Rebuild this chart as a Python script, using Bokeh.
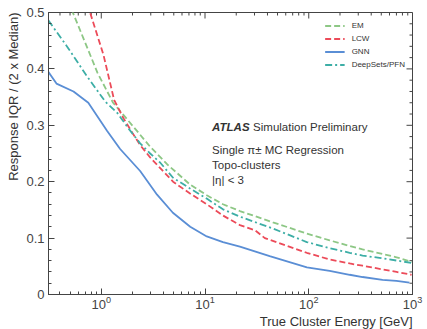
import math
from bokeh.plotting import figure
from bokeh.models import (Range1d, Label, Title, SingleIntervalTicker, LogTicker,
                          Legend, LegendItem)
from bokeh.embed import file_html
from bokeh.resources import INLINE

# ---- data ----
em_e = [0.48, 0.67, 0.92, 1.30, 2.03, 2.96, 4.31, 7.17, 10.4, 14.9, 21.7, 45.1, 95.7, 159, 248, 330, 702, 980]
em_v = [0.520, 0.455, 0.393, 0.340, 0.298, 0.262, 0.231, 0.195, 0.176, 0.160, 0.148, 0.128, 0.108, 0.096, 0.086, 0.080, 0.066, 0.058]

lcw_e = [0.72, 0.78, 1.05, 1.33, 1.63, 1.99, 2.37, 2.96, 4.92, 7.17, 10.4, 14.9, 21.7, 30.3, 37.7, 95.7, 159, 248, 330, 702, 980]
lcw_v = [0.530, 0.500, 0.425, 0.345, 0.313, 0.287, 0.265, 0.243, 0.200, 0.179, 0.160, 0.140, 0.123, 0.114, 0.100, 0.074, 0.062, 0.055, 0.051, 0.040, 0.035]

gnn_e = [0.30, 0.37, 0.54, 0.75, 1.14, 1.52, 2.37, 3.45, 4.9, 7.2, 10.4, 14.9, 21.7, 42, 96, 159, 248, 330, 515, 700, 935]
gnn_v = [0.398, 0.374, 0.360, 0.340, 0.290, 0.258, 0.219, 0.177, 0.145, 0.120, 0.103, 0.093, 0.085, 0.068, 0.048, 0.042, 0.035, 0.031, 0.026, 0.024, 0.021]

pfn_e = [0.309, 0.471, 0.734, 1.093, 1.426, 1.82, 2.37, 2.96, 3.69, 4.92, 7.17, 10.4, 14.9, 21.7, 45.1, 95.7, 159, 248, 330, 481, 980]
pfn_v = [0.486, 0.439, 0.386, 0.342, 0.322, 0.295, 0.268, 0.250, 0.234, 0.207, 0.188, 0.170, 0.151, 0.138, 0.117, 0.093, 0.082, 0.074, 0.069, 0.065, 0.056]

x_major = [1, 10, 100, 1000]
x_minor = [m * 10.0 ** d for d in range(-1, 3) for m in range(2, 10)]
y_major = [0.0, 0.1, 0.2, 0.3, 0.4, 0.5]
y_minor = [round(i * 0.02, 2) for i in range(26) if i % 5]

X0, X1, Y0, Y1 = 0.31, 1000, 0.0, 0.5

FONT = "Liberation Sans"
AX = "#444444"
TXT = "#333333"

p = figure(width=427, height=329, x_axis_type="log",
           x_range=Range1d(X0, X1), y_range=Range1d(Y0, Y1),
           output_backend="svg", toolbar_location=None,
           min_border_left=48, min_border_right=15, min_border_top=12, min_border_bottom=32)
p.xgrid.visible = False
p.ygrid.visible = False
p.outline_line_color = AX
p.outline_line_width = 1

for ax in (p.xaxis[0], p.yaxis[0]):
    ax.axis_line_color = AX
    ax.major_tick_line_color = AX
    ax.minor_tick_line_color = AX
    ax.major_tick_in = 6
    ax.major_tick_out = 0
    ax.minor_tick_in = 3
    ax.minor_tick_out = 0
    ax.major_label_text_font = FONT
    ax.major_label_text_color = "#444444"
    ax.major_label_text_font_size = "13px"
p.yaxis.ticker = SingleIntervalTicker(interval=0.1, num_minor_ticks=5)
p.xaxis.ticker = LogTicker(num_minor_ticks=10)
p.yaxis.major_label_standoff = 4
p.xaxis.major_label_standoff = 1

# mirrored ticks on top and right edges
xm = [v for v in x_minor if X0 <= v <= X1]
p.ray(x=x_major, y=Y1, length=6, angle=-math.pi / 2, length_units="screen", line_color=AX, line_width=1)
p.ray(x=xm, y=Y1, length=3, angle=-math.pi / 2, length_units="screen", line_color=AX, line_width=1)
p.ray(x=X1, y=y_major, length=6, angle=math.pi, length_units="screen", line_color=AX, line_width=1)
p.ray(x=X1, y=y_minor, length=3, angle=math.pi, length_units="screen", line_color=AX, line_width=1)

xt = Title(text="True Cluster Energy [GeV]", align="right", text_font_size="13px",
           text_font_style="normal", text_color=TXT, text_font=FONT, standoff=1)
p.add_layout(xt, "below")
yt = Title(text="Response IQR / (2 x Median)", align="right", text_font_size="13px",
           text_font_style="normal", text_color=TXT, text_font=FONT, standoff=6)
p.add_layout(yt, "left")

r_em = p.line(em_e, em_v, line_color="#8DC785", line_width=1.8, line_dash="6 3")
r_lcw = p.line(lcw_e, lcw_v, line_color="#EC4B59", line_width=1.8, line_dash="6 3")
r_gnn = p.line(gnn_e, gnn_v, line_color="#5A8ED5", line_width=1.8)
r_pfn = p.line(pfn_e, pfn_v, line_color="#3DAEA6", line_width=1.8, line_dash="7 3 2 3")

legend = Legend(items=[LegendItem(label="EM", renderers=[r_em]),
                       LegendItem(label="LCW", renderers=[r_lcw]),
                       LegendItem(label="GNN", renderers=[r_gnn]),
                       LegendItem(label="DeepSets/PFN", renderers=[r_pfn])],
                location="top_right", border_line_color=None, background_fill_alpha=0,
                label_text_font_size="8px", label_text_font=FONT, label_text_color=TXT,
                glyph_width=20, glyph_height=9, label_height=13, spacing=0,
                padding=0, margin=7, label_standoff=7)
p.add_layout(legend)

tx = 11.7
def lab(y, text, style="normal", xoff=0):
    p.add_layout(Label(x=tx, y=y, x_offset=xoff, text=text, text_font=FONT,
                       text_font_size="11.5px", text_font_style=style,
                       text_color=TXT, text_baseline="middle"))

lab(0.2965, "ATLAS", "bold italic")
lab(0.2965, "Simulation Preliminary", xoff=41)
lab(0.2561, "Single π± MC Regression")
lab(0.2297, "Topo-clusters")
lab(0.2033, "|η| < 3")

open("out.html", "w").write(file_html(p, INLINE))
